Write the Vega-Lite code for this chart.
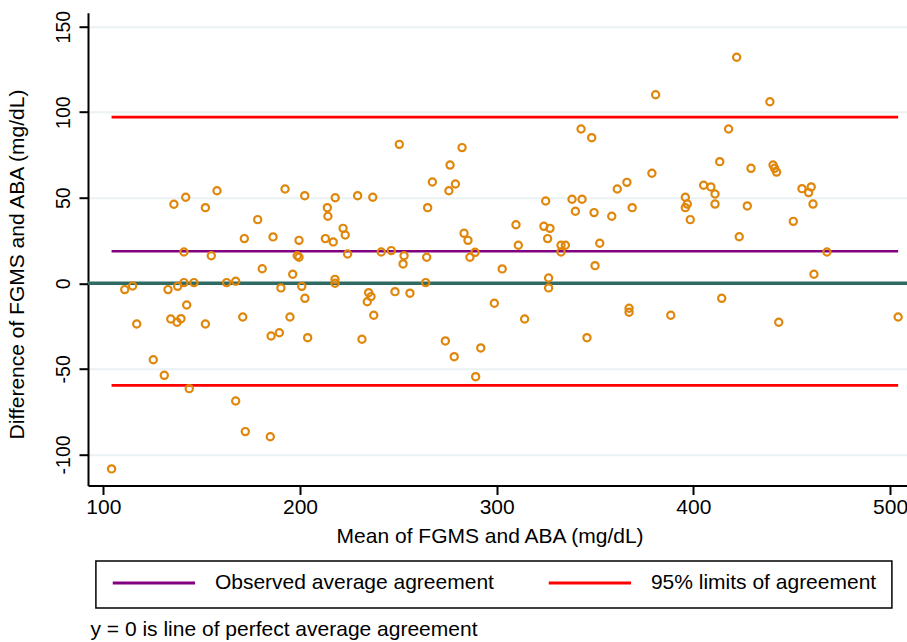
{
  "$schema": "https://vega.github.io/schema/vega-lite/v6.json",
  "width": 819,
  "height": 472.8,
  "autosize": {"type": "none"},
  "padding": {"left": 88, "top": 12.7, "right": 0, "bottom": 156.5},
  "background": "white",
  "title": {"text": "y = 0 is line of perfect average agreement", "orient": "bottom", "anchor": "start", "frame": "group", "fontSize": 21, "font": "Liberation Sans", "fontWeight": "normal", "color": "black", "offset": 10, "dx": 2.5},
  "config": {
    "view": {"stroke": null},
    "font": "Liberation Sans",
    "axis": {"domainColor": "black", "domainWidth": 2, "tickColor": "black", "tickWidth": 2, "tickSize": 9, "labelFont": "Liberation Sans", "titleFont": "Liberation Sans", "labelColor": "black", "titleColor": "black", "titleFontWeight": "normal", "titleFontSize": 21, "labelFlush": false, "labelOverlap": false},
    "axisX": {"grid": false, "labelFontSize": 21, "labelPadding": 18.5, "labelBaseline": "alphabetic", "titleX": 401.6, "titleY": 56.5, "titleBaseline": "alphabetic", "titleAlign": "center"},
    "axisY": {"grid": true, "gridColor": "#EAF2F3", "gridWidth": 2, "labelAngle": -90, "labelAlign": "center", "labelBaseline": "alphabetic", "labelFontSize": 19.5, "labelPadding": 9.3, "titleX": -64.4, "titleY": 251.3, "titleAngle": 270, "titleAlign": "center", "titleBaseline": "alphabetic", "labelExpr": "replace(datum.label, '\u2212', '-')"},
    "legend": {"orient": "none", "legendX": 7.9, "legendY": 548.3, "direction": "horizontal", "symbolType": "stroke", "symbolSize": 6773, "symbolStrokeWidth": 3, "labelFontSize": 21, "labelFont": "Liberation Sans", "labelColor": "black", "labelOffset": 18, "labelLimit": 500, "columnPadding": 53, "padding": 15, "strokeColor": "black", "strokeWidth": 1.5, "fillColor": "white", "clipHeight": 14, "cornerRadius": 0}
  },
  "datasets": {
    "points": [
      {"m":135.9,"d":46.2},{"m":141.9,"d":50.3},{"m":151.9,"d":44.2},{"m":157.8,"d":54.1},{"m":192.4,"d":55.1},{"m":202.4,"d":51.2},{"m":213.9,"d":44.2},{"m":214.2,"d":39.2},{"m":217.9,"d":50.0},{"m":229.3,"d":51.2},{"m":237.0,"d":50.3},{"m":178.5,"d":37.2},{"m":171.7,"d":26.1},{"m":186.3,"d":27.1},{"m":199.5,"d":25.1},{"m":212.9,"d":26.1},{"m":216.9,"d":24.1},{"m":221.9,"d":32.1},{"m":223.0,"d":28.2},{"m":141.0,"d":18.3},{"m":154.9,"d":16.1},{"m":198.6,"d":16.1},{"m":199.5,"d":15.2},{"m":224.2,"d":17.1},{"m":241.3,"d":18.3},{"m":246.4,"d":19.1},{"m":180.8,"d":8.5},{"m":196.3,"d":5.3},
      {"m":110.9,"d":-3.7},{"m":114.9,"d":-1.6},{"m":132.9,"d":-3.7},{"m":137.8,"d":-1.8},{"m":141.0,"d":0.4},{"m":146.1,"d":0.4},{"m":162.7,"d":0.4},{"m":167.3,"d":1.2},{"m":190.3,"d":-2.7},{"m":200.9,"d":-1.8},{"m":217.8,"d":2.3},{"m":217.8,"d":0.0},{"m":234.9,"d":-5.5},{"m":236.1,"d":-7.8},{"m":234.2,"d":-10.8},{"m":202.5,"d":-8.8},{"m":142.4,"d":-12.7},{"m":117.0,"d":-23.8},{"m":134.3,"d":-20.9},{"m":137.5,"d":-22.8},{"m":139.5,"d":-20.7},{"m":151.9,"d":-23.8},{"m":170.9,"d":-19.7},{"m":194.9,"d":-19.7},{"m":237.5,"d":-18.7},{"m":185.3,"d":-30.8},{"m":189.5,"d":-28.9},{"m":203.9,"d":-31.8},{"m":231.5,"d":-32.7},{"m":125.4,"d":-44.7},{"m":131.0,"d":-53.8},{"m":143.7,"d":-61.6},{"m":167.3,"d":-68.8},{"m":172.2,"d":-86.7},{"m":184.9,"d":-89.7},{"m":104.2,"d":-108.5},
      {"m":380.8,"d":110.2},{"m":342.9,"d":90.2},{"m":348.3,"d":85.1},{"m":250.5,"d":81.2},{"m":282.4,"d":79.3},{"m":276.3,"d":69.1},{"m":378.9,"d":64.3},{"m":267.3,"d":59.2},{"m":279.0,"d":58.0},{"m":275.7,"d":54.1},{"m":361.3,"d":55.1},{"m":366.2,"d":59.0},{"m":324.9,"d":48.1},{"m":338.3,"d":49.1},{"m":343.4,"d":49.1},{"m":340.0,"d":42.1},{"m":349.5,"d":41.3},{"m":358.5,"d":39.2},{"m":368.9,"d":44.2},{"m":264.9,"d":44.2},{"m":309.8,"d":34.2},{"m":324.0,"d":33.3},{"m":327.1,"d":32.1},{"m":325.9,"d":26.1},{"m":283.4,"d":29.2},{"m":285.4,"d":25.1},{"m":311.0,"d":22.2},{"m":332.7,"d":22.2},{"m":334.9,"d":22.2},{"m":332.7,"d":18.3},{"m":352.4,"d":23.4},
      {"m":252.9,"d":16.1},{"m":252.4,"d":11.3},{"m":264.4,"d":15.2},{"m":289.0,"d":18.1},{"m":286.4,"d":15.2},{"m":302.8,"d":8.4},{"m":350.0,"d":10.3},{"m":263.9,"d":0.4},{"m":326.4,"d":3.1},{"m":326.4,"d":-2.7},{"m":248.3,"d":-4.9},{"m":255.9,"d":-5.8},{"m":298.8,"d":-11.7},{"m":314.2,"d":-20.9},{"m":367.3,"d":-14.6},{"m":367.3,"d":-16.9},{"m":388.5,"d":-18.7},{"m":273.9,"d":-33.7},{"m":278.4,"d":-42.9},{"m":291.9,"d":-37.8},{"m":345.9,"d":-31.8},{"m":289.3,"d":-54.6},
      {"m":422.0,"d":132.1},{"m":438.9,"d":106.1},{"m":417.9,"d":90.2},{"m":413.4,"d":71.1},{"m":429.3,"d":67.2},{"m":440.5,"d":69.1},{"m":441.3,"d":67.2},{"m":442.3,"d":65.0},{"m":405.2,"d":57.3},{"m":408.9,"d":56.3},{"m":411.0,"d":52.2},{"m":455.2,"d":55.3},{"m":459.9,"d":56.3},{"m":458.6,"d":53.0},{"m":395.9,"d":50.3},{"m":396.9,"d":46.3},{"m":395.9,"d":44.2},{"m":411.0,"d":46.3},{"m":427.4,"d":45.2},{"m":460.8,"d":46.3},{"m":398.4,"d":37.2},{"m":450.8,"d":36.2},{"m":423.3,"d":27.2},{"m":467.9,"d":18.3},{"m":461.3,"d":5.3},{"m":414.4,"d":-8.8},{"m":443.4,"d":-22.8},{"m":504.1,"d":-19.7}
    ],
    "lines": [
      {"label": "Observed average agreement", "d": 18.7, "m": 104.2, "m2": 504.1},
      {"label": "95% limits of agreement", "d": 97.1, "m": 104.2, "m2": 504.1},
      {"label": "95% limits of agreement", "d": -59.7, "m": 104.2, "m2": 504.1}
    ]
  },
  "layer": [
    {
      "data": {"values": [{"d": 0}]},
      "mark": {"type": "rule", "color": "#2F6B63", "strokeWidth": 3.3},
      "encoding": {
        "y": {"field": "d", "type": "quantitative", "scale": {"domain": [-118.2, 158.15], "nice": false, "zero": false}, "axis": {"title": "Difference of FGMS and ABA (mg/dL)", "values": [-100, -50, 0, 50, 100, 150]}}
      }
    },
    {
      "data": {"name": "lines"},
      "mark": {"type": "rule", "strokeWidth": 2.6},
      "encoding": {
        "x": {"field": "m", "type": "quantitative", "scale": {"domain": [92.22, 508.6], "nice": false, "zero": false}, "axis": {"title": "Mean of FGMS and ABA (mg/dL)", "values": [100, 200, 300, 400, 500]}},
        "x2": {"field": "m2"},
        "y": {"field": "d", "type": "quantitative", "scale": {"domain": [-118.2, 158.15], "nice": false, "zero": false}, "axis": {"title": "Difference of FGMS and ABA (mg/dL)", "values": [-100, -50, 0, 50, 100, 150]}},
        "color": {"field": "label", "type": "nominal", "scale": {"domain": ["Observed average agreement", "95% limits of agreement"], "range": ["#800080", "#FF0000"]}, "legend": {"title": null}}
      }
    },
    {
      "data": {"name": "points"},
      "mark": {"type": "point", "shape": "circle", "filled": false, "stroke": "#E0860A", "strokeWidth": 2.2, "size": 52, "opacity": 1},
      "encoding": {
        "x": {"field": "m", "type": "quantitative", "scale": {"domain": [92.22, 508.6], "nice": false, "zero": false}, "axis": {"title": "Mean of FGMS and ABA (mg/dL)", "values": [100, 200, 300, 400, 500]}},
        "y": {"field": "d", "type": "quantitative", "scale": {"domain": [-118.2, 158.15], "nice": false, "zero": false}, "axis": {"title": "Difference of FGMS and ABA (mg/dL)", "values": [-100, -50, 0, 50, 100, 150]}}
      }
    }
  ]
}
